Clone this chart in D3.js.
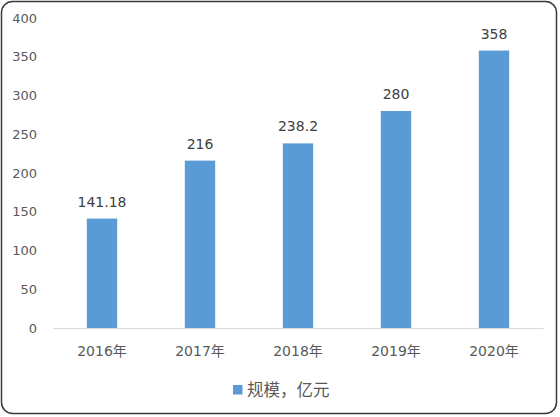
<!DOCTYPE html>
<html lang="zh">
<head>
<meta charset="UTF-8">
<title>规模，亿元</title>
<style>
    body { margin: 0; background: #fff; }
    svg text { font-family: "DejaVu Sans", "Noto Sans CJK SC", sans-serif; }
    .axis path, .axis line { fill: none; }
</style>
</head>
<body>
<div id="chart"></div>
<script src="https://d3js.org/d3.v7.min.js"></script>
<script>
var years = ["2016年", "2017年", "2018年", "2019年", "2020年"];
var values = [141.18, 216, 238.2, 280, 358];
var valueLabels = ["141.18", "216", "238.2", "280", "358"];
var yTicks = [0, 50, 100, 150, 200, 250, 300, 350, 400];
var seriesName = "规模，亿元";

var width = 560, height = 417;
var padding = { left: 53, right: 17, top: 18, bottom: 89 };
var barColor = "#5b9bd5";

var svg = d3.select("#chart").append("svg")
    .attr("width", width).attr("height", height);

// 外框
svg.append("rect")
    .attr("x", 1.5).attr("y", 1.5)
    .attr("width", width - 5).attr("height", height - 5)
    .attr("rx", 11).attr("ry", 11)
    .attr("fill", "#fff")
    .attr("stroke", "#3a3a3a")
    .attr("stroke-width", 1.5);

var xScale = d3.scaleBand()
    .domain(years)
    .range([padding.left, width - padding.right])
    .paddingInner(0.69)
    .paddingOuter(0.345);

var yScale = d3.scaleLinear()
    .domain([0, 400])
    .range([height - padding.bottom, padding.top]);

// 柱
svg.append("g").selectAll("rect")
    .data(values)
    .enter()
    .append("rect")
    .attr("x", function(d, i) { return xScale(years[i]); })
    .attr("y", function(d) { return yScale(d); })
    .attr("width", xScale.bandwidth())
    .attr("height", function(d) { return yScale(0) - yScale(d); })
    .attr("fill", barColor);

// 数值标签
svg.append("g").selectAll("text")
    .data(values)
    .enter()
    .append("text")
    .attr("x", function(d, i) { return xScale(years[i]) + xScale.bandwidth() / 2; })
    .attr("y", function(d) { return yScale(d) - 12; })
    .attr("text-anchor", "middle")
    .attr("font-size", 14)
    .attr("fill", "#404040")
    .text(function(d, i) { return valueLabels[i]; });

// y轴
var yAxis = svg.append("g")
    .attr("class", "axis")
    .attr("transform", "translate(" + padding.left + ",0)")
    .call(d3.axisLeft(yScale).tickValues(yTicks).tickSize(0).tickPadding(16));
yAxis.select(".domain").remove();
yAxis.selectAll("text")
    .attr("font-size", 13)
    .attr("fill", "#595959");

// x轴
var xAxis = svg.append("g")
    .attr("class", "axis")
    .attr("transform", "translate(0," + yScale(0) + ")")
    .call(d3.axisBottom(xScale).tickSize(0).tickPadding(18));
xAxis.select(".domain")
    .attr("stroke", "#d9d9d9")
    .attr("stroke-width", 1);
xAxis.selectAll("text")
    .attr("font-size", 14)
    .attr("fill", "#595959");

// 图例
var legend = svg.append("g").attr("transform", "translate(233,385)");
legend.append("rect")
    .attr("width", 9.5).attr("height", 9.5)
    .attr("fill", barColor);
legend.append("text")
    .attr("x", 14).attr("y", 11)
    .attr("font-size", 16.5)
    .attr("fill", "#595959")
    .text(seriesName);
</script>
</body>
</html>
